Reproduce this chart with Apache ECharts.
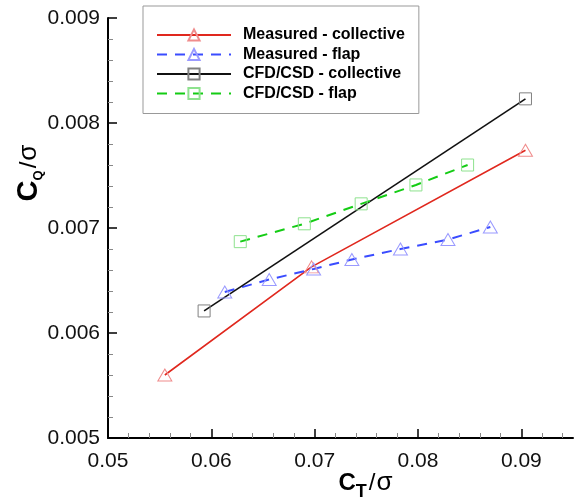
<!DOCTYPE html>
<html>
<head>
<meta charset="utf-8">
<script src="https://cdn.jsdelivr.net/npm/echarts@6/dist/echarts.min.js"></script>
<style>
html,body{margin:0;padding:0;background:#fff;}
#chart{width:579px;height:502px;}
</style>
</head>
<body>
<div id="chart"></div>
<script>
// ---- data ----
const measuredCollective = [[0.0555, 0.00560], [0.0697, 0.00663], [0.0904, 0.00774]];
const measuredFlap = [[0.0613, 0.00639], [0.0656, 0.00651], [0.0699, 0.00661], [0.0736, 0.00670], [0.0783, 0.00680], [0.0829, 0.00689], [0.0870, 0.00701]];
const cfdCollective = [[0.0593, 0.00621], [0.0904, 0.00823]];
const cfdFlap = [[0.0628, 0.00687], [0.0690, 0.00704], [0.0745, 0.00723], [0.0798, 0.00741], [0.0848, 0.00760]];
const seriesNames = ['Measured - collective', 'Measured - flap', 'CFD/CSD - collective', 'CFD/CSD - flap'];
const xMajorTicks = [0.05, 0.06, 0.07, 0.08, 0.09];
const xMinorTicks = [0.052, 0.054, 0.056, 0.058, 0.062, 0.064, 0.066, 0.068, 0.072, 0.074, 0.076, 0.078, 0.082, 0.084, 0.086, 0.088, 0.092, 0.094];
const yMajorTicks = [0.005, 0.006, 0.007, 0.008, 0.009];

const FONT = '"Liberation Sans", Arial, Helvetica, sans-serif';
const xTitleRich = {
  c: {fontSize: 24, fontWeight: 'bold', fontFamily: FONT, color: '#000', lineHeight: 24},
  s: {fontSize: 18, fontWeight: 'bold', fontFamily: FONT, color: '#000', lineHeight: 18, padding: [19, 0, 0, 0]},
  n: {fontSize: 24, fontFamily: FONT, color: '#000', lineHeight: 24, padding: [0, 0, 0, 2]},
  g: {fontSize: 26, fontFamily: FONT, color: '#000', lineHeight: 26, padding: [0, 0, 0, 1]}
};
const yTitleRich = {
  c: {fontSize: 29, fontWeight: 'bold', fontFamily: FONT, color: '#000', lineHeight: 29},
  s: {fontSize: 13, fontWeight: 'bold', fontFamily: FONT, color: '#000', lineHeight: 13, padding: [18.5, 0, 0, 0]},
  n: {fontSize: 24, fontFamily: FONT, color: '#000', lineHeight: 24, padding: [0, 0, 0, 2]},
  g: {fontSize: 26, fontFamily: FONT, color: '#000', lineHeight: 26, padding: [0, 0, 0, 1]}
};

const chart = echarts.init(document.getElementById('chart'), null, {renderer: 'canvas'});

function mkSeries(name, data, color, markColor, dashed, symbol, size, width) {
  return {
    name: name,
    type: 'line',
    data: data,
    xAxisIndex: 0,
    yAxisIndex: 0,
    symbol: symbol,
    symbolSize: size,
    showAllSymbol: true,
    lineStyle: {color: color, width: width, type: dashed ? [10, 8] : 'solid'},
    itemStyle: {color: 'rgba(255,255,255,0)', borderColor: markColor, borderWidth: 1},
    emphasis: {disabled: true},
    animation: false,
    z: 2
  };
}

const option = {
  animation: false,
  backgroundColor: '#fff',
  grid: {left: 108, right: 6, top: 18, bottom: 64, containLabel: false, outerBoundsMode: 'none'},
  legend: {
    orient: 'vertical',
    left: 143,
    top: 6,
    padding: [21, 14, 12, 13],
    itemWidth: 74,
    itemHeight: 14,
    itemGap: 3.5,
    backgroundColor: '#fff',
    borderColor: '#999',
    borderWidth: 1,
    borderRadius: 0,
    textStyle: {fontSize: 16, fontWeight: 'bold', fontFamily: FONT, color: '#000', padding: [0, 0, 0, 7]},
    data: seriesNames
  },
  xAxis: [{
    type: 'value',
    min: 0.05,
    max: 0.095,
    interval: 0.01,
    position: 'bottom',
    axisLine: {show: true, lineStyle: {color: '#000', width: 2}},
    axisTick: {show: true, inside: true, length: 9, customValues: xMajorTicks, lineStyle: {color: '#000', width: 1.5}},
    axisLabel: {show: true, customValues: xMajorTicks, fontSize: 21, fontFamily: FONT, color: '#111', margin: 13,
      formatter: v => v.toFixed(2)},
    splitLine: {show: false},
    name: '{c|C}{s|T}{n|/}{g|σ}',
    nameLocation: 'middle',
    nameGap: 32,
    nameMoveOverlap: false,
    nameTextStyle: {rich: xTitleRich, padding: [0, 0, 0, 50]}
  }, {
    type: 'value',
    min: 0.05,
    max: 0.095,
    position: 'bottom',
    axisLine: {show: false},
    axisTick: {show: true, inside: true, length: 5, customValues: xMinorTicks, lineStyle: {color: '#888', width: 1}},
    axisLabel: {show: false},
    splitLine: {show: false}
  }],
  yAxis: [{
    type: 'value',
    min: 0.005,
    max: 0.009,
    interval: 0.001,
    axisLine: {show: true, lineStyle: {color: '#000', width: 2}},
    axisTick: {show: true, inside: true, length: 9, customValues: yMajorTicks, lineStyle: {color: '#000', width: 1.5}},
    minorTick: {show: true, splitNumber: 5, length: 5, lineStyle: {color: '#888', width: 1}},
    axisLabel: {show: true, customValues: yMajorTicks, fontSize: 21, fontFamily: FONT, color: '#111', margin: 8,
      formatter: v => v.toFixed(3)},
    splitLine: {show: false},
    minorSplitLine: {show: false},
    name: '{c|C}{s|Q}{n|/}{g|σ}',
    nameLocation: 'middle',
    nameRotate: 90,
    nameGap: 64.5,
    nameMoveOverlap: false,
    nameTextStyle: {rich: yTitleRich, padding: [0, 0, 0, 110]}
  }],
  series: [
    mkSeries(seriesNames[0], measuredCollective, '#e0281e', '#f08c8c', false, 'triangle', [14, 12], 1.6),
    mkSeries(seriesNames[1], measuredFlap, '#3a4cff', '#9a9aff', true, 'triangle', [14, 12], 2),
    mkSeries(seriesNames[2], cfdCollective, '#111111', '#808080', false, 'rect', [12, 12], 1.6),
    mkSeries(seriesNames[3], cfdFlap, '#14cc14', '#8ee28e', true, 'rect', [12, 12], 2)
  ]
};
chart.setOption(option);
</script>
</body>
</html>
